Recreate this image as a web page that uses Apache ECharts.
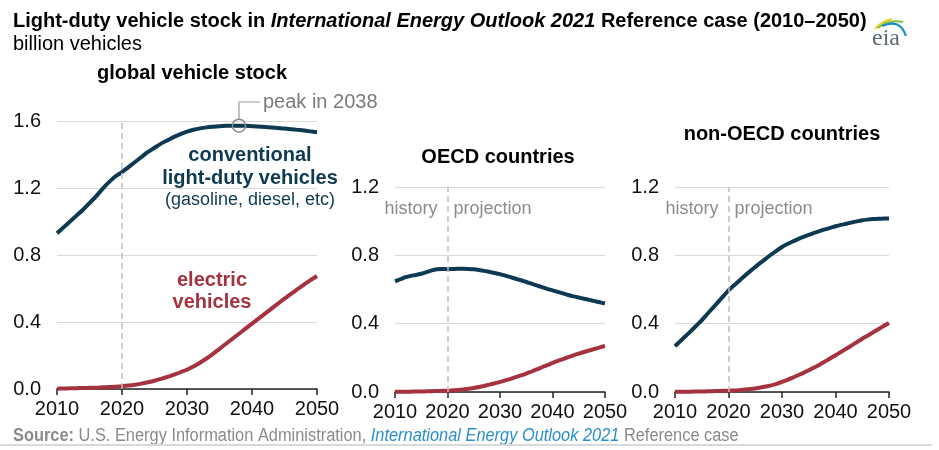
<!DOCTYPE html>
<html><head><meta charset="utf-8">
<script src="https://cdn.jsdelivr.net/npm/echarts@6/dist/echarts.min.js"></script>
<style>html,body{margin:0;padding:0;background:#fff}#c{width:939px;height:450px}</style>
</head><body><div id="c"></div>
<script>
// ---- data ----
const years = [2010,2011,2012,2013,2014,2015,2016,2017,2018,2019,
  2020,2021,2022,2023,2024,2025,2026,2027,2028,2029,
  2030,2031,2032,2033,2034,2035,2036,2037,2038,2039,
  2040,2041,2042,2043,2044,2045,2046,2047,2048,2049,2050];
const xTicks = [2010, 2020, 2030, 2040, 2050];

const globalConv = [0.93,0.965,1.00,1.035,1.07,1.11,1.15,1.195,1.235,1.27,
  1.295,1.325,1.355,1.385,1.415,1.44,1.465,1.485,1.505,1.522,
  1.537,1.548,1.556,1.562,1.566,1.569,1.571,1.572,1.572,1.571,
  1.569,1.567,1.564,1.561,1.558,1.555,1.551,1.547,1.543,1.538,1.533];
const globalEV = [0.002,0.003,0.004,0.005,0.006,0.007,0.008,0.010,0.012,0.014,
  0.017,0.021,0.026,0.032,0.040,0.049,0.060,0.072,0.086,0.100,
  0.115,0.135,0.157,0.182,0.21,0.24,0.27,0.30,0.33,0.36,
  0.39,0.42,0.45,0.48,0.51,0.54,0.568,0.596,0.623,0.65,0.675];
const oecdConv = [0.648,0.66,0.672,0.68,0.685,0.692,0.702,0.712,0.718,0.72,
  0.719,0.72,0.721,0.721,0.72,0.718,0.714,0.709,0.703,0.697,
  0.69,0.681,0.672,0.663,0.654,0.644,0.634,0.624,0.614,0.604,
  0.595,0.586,0.577,0.568,0.56,0.553,0.546,0.539,0.532,0.525,0.518];
const oecdEV = [0.001,0.001,0.002,0.002,0.003,0.003,0.004,0.005,0.006,0.007,
  0.008,0.010,0.012,0.015,0.019,0.023,0.029,0.036,0.043,0.051,
  0.059,0.068,0.077,0.087,0.097,0.108,0.12,0.132,0.145,0.157,
  0.17,0.182,0.193,0.204,0.215,0.225,0.234,0.243,0.252,0.261,0.269];
const nonOecdConv = [0.268,0.298,0.328,0.358,0.389,0.42,0.455,0.49,0.525,0.56,
  0.595,0.623,0.651,0.679,0.706,0.732,0.757,0.781,0.805,0.828,
  0.849,0.866,0.881,0.895,0.908,0.92,0.931,0.942,0.952,0.961,
  0.97,0.978,0.985,0.992,0.999,1.005,1.009,1.012,1.014,1.015,1.016];
const nonOecdEV = [0.001,0.001,0.002,0.002,0.003,0.003,0.004,0.005,0.006,0.007,
  0.008,0.009,0.011,0.014,0.017,0.021,0.026,0.032,0.039,0.048,
  0.059,0.071,0.084,0.098,0.112,0.127,0.143,0.16,0.178,0.196,
  0.215,0.234,0.253,0.272,0.292,0.312,0.33,0.348,0.367,0.386,0.404];

const yTicksGlobal = [0.0, 0.4, 0.8, 1.2, 1.6];
const yTicksRegion = [0.0, 0.4, 0.8, 1.2];
const projectionStart = 2020;
const peakYear = 2038;

// ---- styling ----
const FONT = '"Liberation Sans", Arial, sans-serif';
const NAVY = '#0d3a52';
const RED = '#a5323f';
const GTXT = '#8c8c8c';

const pairs = (vals) => years.map((y, i) => [y, vals[i]]);

function xAxisCfg(i) {
  return {
    type: 'value', gridIndex: i, min: xTicks[0], max: xTicks[xTicks.length - 1],
    interval: xTicks[1] - xTicks[0],
    axisLine: { show: true, lineStyle: { color: '#222', width: 1.5 } },
    axisTick: { show: true, length: 6, lineStyle: { color: '#222', width: 1.5 } },
    axisLabel: { color: '#111', fontSize: 20, fontFamily: FONT, margin: 10, formatter: v => String(v) },
    splitLine: { show: false }
  };
}
function yAxisCfg(i, ticks) {
  return {
    type: 'value', gridIndex: i, min: ticks[0], max: ticks[ticks.length - 1],
    interval: ticks[1] - ticks[0],
    axisLine: { show: false }, axisTick: { show: false },
    axisLabel: { color: '#111', fontSize: 20, fontFamily: FONT, margin: 16, formatter: v => v.toFixed(1) },
    splitLine: { lineStyle: { color: '#d9d9d9', width: 1 } }
  };
}
const dashLine = {
  silent: true, symbol: 'none', label: { show: false },
  lineStyle: { type: [6, 4], color: '#bfbfbf', width: 1.5 },
  data: [{ xAxis: projectionStart }]
};
function lineSeries(idx, vals, color, extra) {
  return Object.assign({
    type: 'line', xAxisIndex: idx, yAxisIndex: idx, data: pairs(vals),
    showSymbol: false, smooth: 0.3, silent: true,
    lineStyle: { color, width: 4 }, itemStyle: { color }
  }, extra || {});
}

const chart = echarts.init(document.getElementById('c'));
chart.setOption({
  animation: false,
  backgroundColor: '#fff',
  grid: [
    { left: 57, top: 121, width: 260, height: 268 },
    { left: 395, top: 187, width: 210, height: 205 },
    { left: 675, top: 187, width: 214, height: 205 }
  ],
  xAxis: [xAxisCfg(0), xAxisCfg(1), xAxisCfg(2)],
  yAxis: [yAxisCfg(0, yTicksGlobal), yAxisCfg(1, yTicksRegion), yAxisCfg(2, yTicksRegion)],
  series: [
    lineSeries(0, globalConv, NAVY, {
      markLine: dashLine,
      markPoint: {
        silent: true, symbol: 'circle', symbolSize: 13,
        itemStyle: { color: 'rgba(255,255,255,0)', borderColor: '#8c8c8c', borderWidth: 1.5 },
        label: { show: false },
        data: [{ coord: [peakYear, globalConv[years.indexOf(peakYear)]] }]
      }
    }),
    lineSeries(0, globalEV, RED),
    lineSeries(1, oecdConv, NAVY, { markLine: dashLine }),
    lineSeries(1, oecdEV, RED),
    lineSeries(2, nonOecdConv, NAVY, { markLine: dashLine }),
    lineSeries(2, nonOecdEV, RED)
  ]
});

// ---- annotations ----
const peakPx = chart.convertToPixel({ gridIndex: 0 }, [peakYear, globalConv[years.indexOf(peakYear)]]);
const div1 = chart.convertToPixel({ gridIndex: 1 }, [projectionStart, 0])[0];
const div2 = chart.convertToPixel({ gridIndex: 2 }, [projectionStart, 0])[0];

function txt(x, y, text, opts) {
  return { type: 'text', x, y, silent: true, style: Object.assign({
    text, font: '20px ' + FONT, fill: '#000', align: 'left', verticalAlign: 'middle' }, opts || {}) };
}
const SRC_FONT = '"Liberation Sans Narrow", ' + FONT;

const graphics = [
  { type: 'text', x: 13, y: 21, style: {
      text: '{b|Light-duty vehicle stock in }{bi|International Energy Outlook 2021}{b| Reference case (2010–2050)}',
      verticalAlign: 'middle',
      rich: {
        b: { fontFamily: FONT, fontSize: 20, fontWeight: 'bold', fill: '#000' },
        bi: { fontFamily: FONT, fontSize: 20, fontWeight: 'bold', fontStyle: 'italic', fill: '#000' }
      } } },
  txt(13, 44, 'billion vehicles'),
  txt(192, 73, 'global vehicle stock', { font: 'bold 20px ' + FONT, align: 'center' }),
  txt(498, 157, 'OECD countries', { font: 'bold 20px ' + FONT, align: 'center' }),
  txt(782, 134, 'non-OECD countries', { font: 'bold 20px ' + FONT, align: 'center' }),
  txt(250, 155, 'conventional', { font: 'bold 20px ' + FONT, align: 'center', fill: NAVY }),
  txt(250, 178, 'light-duty vehicles', { font: 'bold 20px ' + FONT, align: 'center', fill: NAVY }),
  txt(250, 200, '(gasoline, diesel, etc)', { font: '18px ' + FONT, align: 'center', fill: NAVY }),
  txt(212, 280, 'electric', { font: 'bold 20px ' + FONT, align: 'center', fill: RED }),
  txt(212, 302, 'vehicles', { font: 'bold 20px ' + FONT, align: 'center', fill: RED }),
  { type: 'polyline', silent: true, shape: { points: [[peakPx[0], peakPx[1] - 6.5], [peakPx[0], 102], [peakPx[0] + 21, 102]] },
    style: { stroke: '#9a9a9a', lineWidth: 1.2, fill: null } },
  txt(peakPx[0] + 24, 102, 'peak in 2038', { fill: '#7a7a7a' }),
  txt(div1 - 10, 209, 'history', { font: '18px ' + FONT, align: 'right', fill: GTXT }),
  txt(div1 + 6, 209, 'projection', { font: '18px ' + FONT, fill: GTXT }),
  txt(div2 - 10, 209, 'history', { font: '18px ' + FONT, align: 'right', fill: GTXT }),
  txt(div2 + 6, 209, 'projection', { font: '18px ' + FONT, fill: GTXT }),
  { type: 'text', x: 13, y: 436, scaleX: 0.91, silent: true, style: {
      text: '{b|Source:}{r| U.S. Energy Information Administration, }{i|International Energy Outlook 2021}{r| Reference case}',
      verticalAlign: 'middle',
      rich: {
        b: { fontFamily: SRC_FONT, fontSize: 18, fontWeight: 'bold', fill: '#8a8a8a' },
        r: { fontFamily: SRC_FONT, fontSize: 18, fill: '#8a8a8a' },
        i: { fontFamily: SRC_FONT, fontSize: 18, fontStyle: 'italic', fill: '#2a8fcb' }
      } } },
  { type: 'rect', silent: true, shape: { x: 0, y: 444, width: 932, height: 2 }, style: { fill: '#d9d9d9' } },
  // eia logo
  { type: 'bezierCurve', silent: true, shape: { x1: 875, y1: 29, cpx1: 880, cpy1: 22, x2: 892, y2: 19 }, style: { stroke: '#e8d21c', lineWidth: 2, fill: null } },
  { type: 'bezierCurve', silent: true, shape: { x1: 878, y1: 28, cpx1: 888, cpy1: 19, x2: 903, y2: 22 }, style: { stroke: '#7cc142', lineWidth: 2, fill: null } },
  { type: 'bezierCurve', silent: true, shape: { x1: 882, y1: 26, cpx1: 900, cpy1: 18, x2: 906, y2: 36 }, style: { stroke: '#1a8ccd', lineWidth: 2.2, fill: null } },
  txt(872, 39, 'eia', { font: '24px "Liberation Serif", "DejaVu Serif", serif', fill: '#5d6b78' })
];
chart.setOption({ graphic: graphics });
</script>
</body></html>
